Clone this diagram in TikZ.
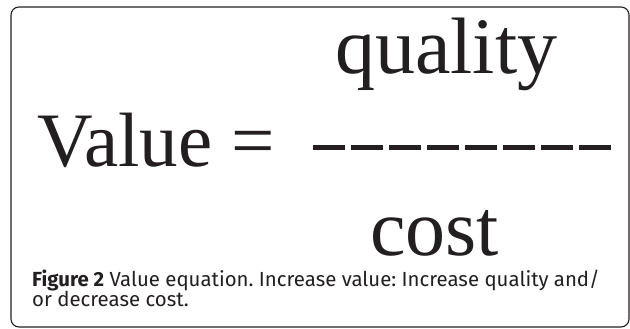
\documentclass[tikz,border=0pt]{standalone}
\usepackage{fontspec}
\newfontfamily\eqfont{Liberation Serif}
\newfontfamily\capfont{Fira Sans}
\definecolor{ink}{HTML}{231F20}

\begin{document}
\frenchspacing
\begin{tikzpicture}[x=1pt, y=-1pt,
  eqtext/.style={anchor=base west, inner sep=0pt, text=ink,
    font=\eqfont\fontsize{80}{80}\selectfont},
  bar/.style={draw=ink, line width=5pt, dash pattern=on 32pt off 6pt},
  caption/.style={anchor=base west, inner sep=0pt, text=ink,
    font=\capfont\fontsize{20.4}{19}\selectfont}
]

\useasboundingbox[fill=white] (0,0) rectangle (630,329);
\draw[ink, line width=1.1pt, rounded corners=8pt] (11,7) rectangle (629,327);

% the equation
\node[eqtext] (quality) at (335,74) {quality};
\node[eqtext, font=\eqfont\fontsize{77}{77}\selectfont] (value) at (37,167) {Value =};
\coordinate (barL) at (313,147);
\coordinate (barR) at (611,147);
\draw[bar] (barL) -- (barR);
\node[eqtext] (cost) at (370,255) {cost};

% caption
\node[caption] (capA) at (32,286)
  {\textbf{Figure 2} Value equation. Increase value: Increase quality and/};
\node[caption] (capB) at (32,306) {or decrease cost.};

\end{tikzpicture}
\end{document}
